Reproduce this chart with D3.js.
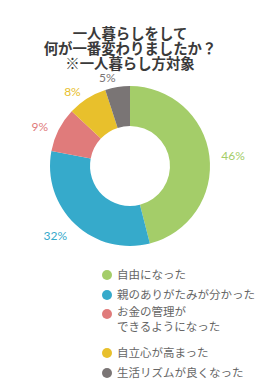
<!DOCTYPE html>
<html><head><meta charset="utf-8">
<script src="https://cdn.jsdelivr.net/npm/d3@7"></script>
<style>
html,body{margin:0;padding:0;background:#fff;}
svg{display:block;}
</style>
</head><body>
<svg id="chart" width="260" height="388"></svg>
<script>
const titleLines = ["一人暮らしをして", "何が一番変わりましたか？", "※一人暮らし方対象"];
const categories = ["自由になった", "親のありがたみが分かった", "お金の管理が\nできるようになった", "自立心が高まった", "生活リズムが良くなった"];
const values = [46, 32, 9, 8, 5];
const colors = ["#a4cd69", "#36aacb", "#e07b7b", "#e8c02c", "#7a7575"];

const svg = d3.select("#chart");
const font = "'Noto Sans CJK JP','Noto Sans',sans-serif";

svg.append("g").selectAll("text").data(titleLines).join("text")
  .attr("x", 130).attr("y", (d, i) => 34 + i * 15)
  .attr("dy", "0.35em")
  .attr("text-anchor", "middle")
  .attr("font-family", font).attr("font-weight", "bold")
  .attr("font-size", 14.4).attr("fill", "#3a3a3a")
  .text(d => d);

const cx = 130, cy = 166, R = 80, r0 = 40;
const pie = d3.pie().sort(null).value(d => d)(values);
const arc = d3.arc().innerRadius(r0).outerRadius(R);
const g = svg.append("g").attr("transform", `translate(${cx},${cy})`);
g.selectAll("path").data(pie).join("path")
  .attr("d", arc).attr("fill", (d, i) => colors[i]);

const labelArc = d3.arc().innerRadius(92).outerRadius(92);
g.selectAll("text").data(pie).join("text")
  .attr("x", d => labelArc.centroid(d)[0])
  .attr("y", d => labelArc.centroid(d)[1])
  .attr("dy", d => ((d.startAngle + d.endAngle) / 2 < Math.PI / 2 ? "0.45em" : "0.6em"))
  .attr("text-anchor", d => ((d.startAngle + d.endAngle) / 2 < Math.PI ? "start" : "end"))
  .attr("font-family", "Lato, 'Open Sans', sans-serif")
  .attr("font-size", 12)
  .attr("fill", (d, i) => colors[i])
  .text(d => d.data + "%");

const legendY = [275, 295, 314, 353, 373];
const lg = svg.append("g");
categories.forEach((c, i) => {
  lg.append("circle").attr("cx", 107).attr("cy", legendY[i]).attr("r", 5).attr("fill", colors[i]);
  const lines = c.split("\n");
  const t = lg.append("text").attr("x", 117).attr("y", legendY[i] - (lines.length - 1) * 2)
    .attr("font-family", font).attr("font-size", 11.5).attr("fill", "#666");
  lines.forEach((line, j) => {
    t.append("tspan").attr("x", 117).attr("dy", j === 0 ? "0.38em" : "1.3em").text(line);
  });
});
</script>
</body></html>
